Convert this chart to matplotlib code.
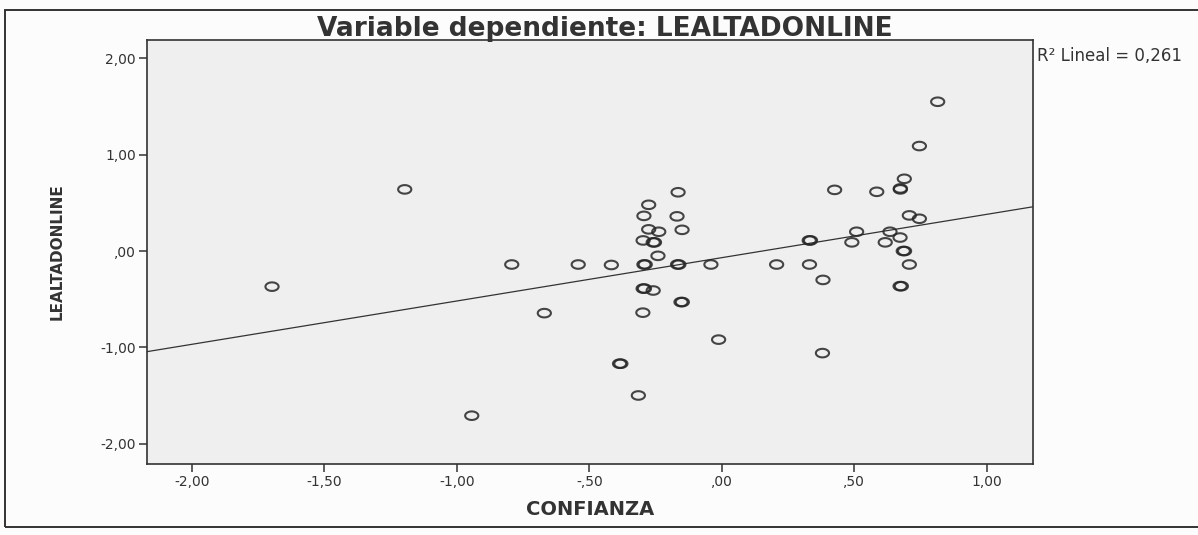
import numpy as np
import matplotlib
matplotlib.use("Agg")
from matplotlib import pyplot as plt
from matplotlib.path import Path
from matplotlib.patches import Rectangle

plt.rcParams["font.family"] = ["DejaVu Sans"]

# values
confianza = [-1.197, -1.698, -0.793, -0.542, -0.670, -0.944,
             0.815, 0.746, 0.689, 0.674, 0.674, 0.426, 0.585,
             -0.165, -0.276, -0.294, -0.169, -0.276, -0.238, -0.150,
             -0.297, -0.259, -0.254, -0.241, -0.417, -0.294, -0.289,
             -0.167, -0.162, -0.041, 0.207, 0.331, 0.330, 0.335,
             0.509, 0.491, 0.635, 0.617, 0.673, 0.708, 0.746,
             0.685, 0.690, 0.708, 0.673, 0.678, 0.382, 0.380,
             -0.297, -0.292, -0.259, -0.154, -0.149, -0.298, -0.012,
             -0.386, -0.381, -0.315]
lealtad = [0.64, -0.37, -0.14, -0.14, -0.645, -1.71,
           1.55, 1.09, 0.75, 0.64, 0.65, 0.635, 0.615,
           0.61, 0.48, 0.365, 0.36, 0.225, 0.20, 0.22,
           0.11, 0.09, 0.09, -0.05, -0.145, -0.14, -0.14,
           -0.14, -0.14, -0.14, -0.14, -0.14, 0.11, 0.11,
           0.20, 0.09, 0.20, 0.09, 0.14, 0.37, 0.335,
           0.0, 0.0, -0.14, -0.365, -0.365, -0.30, -1.06,
           -0.39, -0.39, -0.41, -0.53, -0.53, -0.64, -0.92,
           -1.17, -1.17, -1.50]

xticks = [-2.0, -1.5, -1.0, -0.5, 0.0, 0.5, 1.0]
xticklabels = ["-2,00", "-1,50", "-1,00", "-,50", ",00", ",50", "1,00"]
yticks = [-2.0, -1.0, 0.0, 1.0, 2.0]
yticklabels = ["-2,00", "-1,00", ",00", "1,00", "2,00"]

x = np.array(confianza)
y = np.array(lealtad)

fig = plt.figure(figsize=(11.98, 5.35), dpi=100, facecolor="#fcfcfc")
ax = fig.add_axes([0.1227, 0.133, 0.7396, 0.792])
ax.set_facecolor("#efefef")

# slightly flattened ring, like the stretched scan
t = np.linspace(0, 2 * np.pi, 40)
ring = Path(np.column_stack([np.cos(t), 0.65 * np.sin(t)]), closed=True)

ax.scatter(x, y, marker=ring, s=90, facecolors="none",
           edgecolors="#262626", linewidths=1.5, alpha=0.85, zorder=3)

# linear fit
b, a = np.polyfit(x, y, 1)
xl = np.array([-2.17, 1.175])
ax.plot(xl, a + b * xl, color="#333333", lw=0.9, zorder=2)

ax.set_xlim(-2.17, 1.175)
ax.set_ylim(-2.21, 2.19)
ax.set_xticks(xticks)
ax.set_xticklabels(xticklabels)
ax.set_yticks(yticks)
ax.set_yticklabels(yticklabels)
ax.tick_params(axis="both", direction="out", length=6, width=1.1,
               color="#333333", labelsize=10, labelcolor="#333333", pad=2)
for s in ax.spines.values():
    s.set_color("#333333")
    s.set_linewidth(1.2)

ax.set_xlabel("CONFIANZA", fontsize=14, fontweight="bold", color="#333333",
              labelpad=8)
ax.set_ylabel("LEALTADONLINE", fontsize=11, fontweight="bold",
              color="#333333", labelpad=26)

fig.text(0.505, 0.946, "Variable dependiente: LEALTADONLINE", ha="center",
         va="center", fontsize=19, fontweight="bold", color="#333333")
fig.text(0.866, 0.895, "R\u00b2 Lineal = 0,261", ha="left", va="center",
         fontsize=12, color="#333333")

# outer frame of the SPSS chart
fig.patches.append(Rectangle((0.004, 0.015), 1.2, 0.967,
                             transform=fig.transFigure, fill=False,
                             edgecolor="#333333", lw=1.4))

fig.savefig("out.png", dpi=100, facecolor=fig.get_facecolor())
